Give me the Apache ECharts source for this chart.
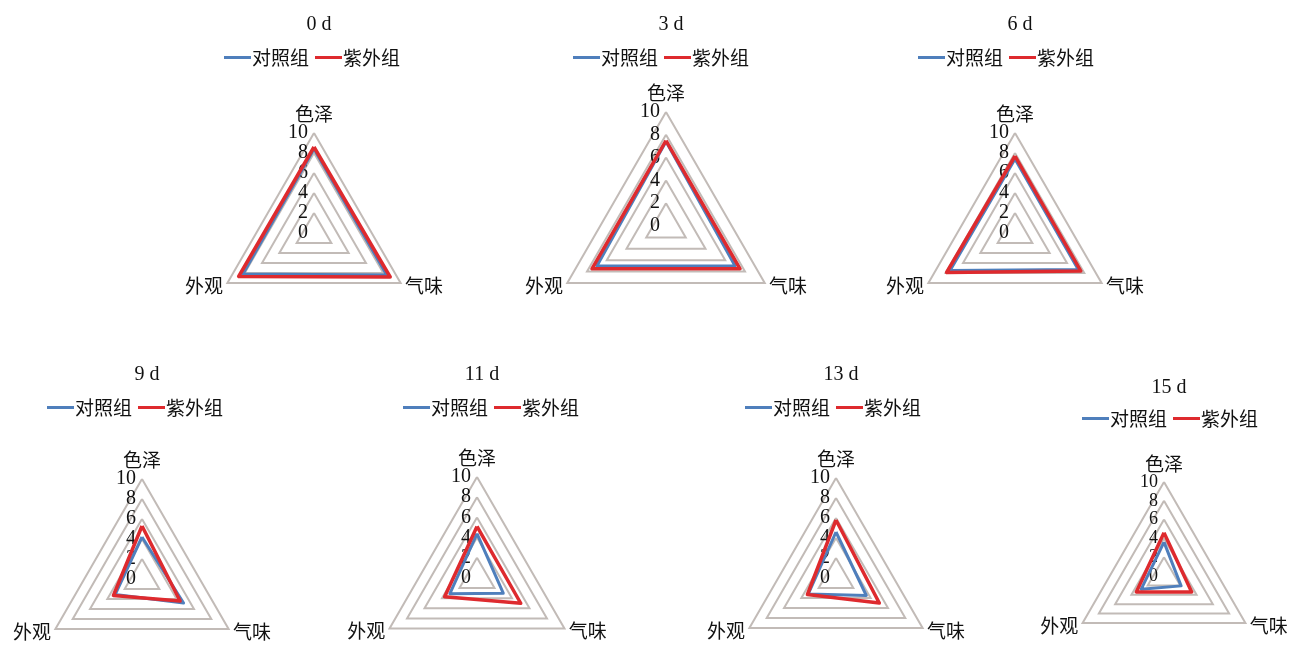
<!DOCTYPE html>
<html>
<head>
<meta charset="utf-8">
<script src="https://cdn.jsdelivr.net/npm/echarts@6/dist/echarts.min.js"></script>
<style>
  html, body { margin: 0; padding: 0; background: #fff; }
  #chart { width: 1294px; height: 648px; }
</style>
</head>
<body>
<div id="chart"></div>
<script>
// ---- data ----
const days = ['0 d', '3 d', '6 d', '9 d', '11 d', '13 d', '15 d'];
const indicatorNames = ['色泽', '外观', '气味'];
const seriesNames = ['对照组', '紫外组'];
const maxScore = 10;
// values per day, in order [色泽, 外观, 气味]
const controlScores = [
  [8.4, 8.2, 8.4],
  [7.4, 7.0, 7.0],
  [7.4, 7.5, 7.3],
  [4.2, 3.1, 4.8],
  [4.4, 3.1, 3.0],
  [4.6, 3.2, 3.5],
  [3.6, 2.8, 2.1]
];
const uvScores = [
  [8.6, 8.7, 8.8],
  [7.5, 7.5, 7.5],
  [7.7, 7.9, 7.6],
  [5.3, 3.3, 4.4],
  [5.1, 3.7, 5.0],
  [5.8, 3.3, 5.0],
  [4.6, 3.4, 3.4]
];

// ---- layout (component placement only) ----
const panels = [
  { cx: 314,  cy: 233, r: 100, fs: 20, titleTop: 10,  legendLeft: 219,  legendTop: 43 },
  { cx: 666,  cy: 226, r: 114, fs: 20, titleTop: 10,  legendLeft: 568,  legendTop: 43 },
  { cx: 1015, cy: 233, r: 100, fs: 20, titleTop: 10,  legendLeft: 913,  legendTop: 43 },
  { cx: 142,  cy: 579, r: 100, fs: 20, titleTop: 360, legendLeft: 42,   legendTop: 393 },
  { cx: 477,  cy: 578, r: 101, fs: 20, titleTop: 360, legendLeft: 398,  legendTop: 393 },
  { cx: 836,  cy: 578, r: 100, fs: 20, titleTop: 360, legendLeft: 740,  legendTop: 393 },
  { cx: 1164, cy: 576, r: 94,  fs: 18, titleTop: 373, legendLeft: 1077, legendTop: 404 }
];

const colors = ['#4F7FBC', '#DE2A2E'];
const cjk = "'Noto Sans CJK SC', sans-serif";
const serif = "'Liberation Serif', 'Times New Roman', serif";

const titles = [], legends = [], radars = [], series = [];
days.forEach((d, i) => {
  const p = panels[i];
  titles.push({
    text: d, left: p.cx, top: p.titleTop, textAlign: 'center',
    textStyle: { fontFamily: serif, fontSize: 20, fontWeight: 'normal', color: '#111' }
  });
  legends.push({
    data: seriesNames, left: p.legendLeft, top: p.legendTop,
    icon: 'rect', itemWidth: 27, itemHeight: 3, itemGap: 6,
    textStyle: { fontFamily: cjk, fontSize: 19, color: '#111', padding: [0, 0, 0, -4] }
  });
  radars.push({
    center: [p.cx, p.cy], radius: p.r, shape: 'polygon', splitNumber: 5,
    startAngle: 90,
    indicator: indicatorNames.map((n, k) => k === 0
      ? { name: n, min: 0, max: maxScore }
      : { name: n, min: 0, max: maxScore, axisLabel: { show: false } }),
    axisName: { color: '#111', fontFamily: cjk, fontSize: 19 },
    nameGap: 5,
    axisLine: { show: false },
    axisTick: { show: false },
    axisLabel: { show: true, interval: 0, hideOverlap: false, margin: 6, color: '#111',
                 fontFamily: serif, fontSize: p.fs,
                 showMinLabel: true, showMaxLabel: true },
    splitLine: { lineStyle: { color: '#C2BBB7', width: 2 } },
    splitArea: { show: false }
  });
  series.push({
    type: 'radar', radarIndex: i, name: seriesNames[0], symbol: 'none',
    lineStyle: { color: colors[0], width: 3 }, itemStyle: { color: colors[0] },
    data: [{ value: controlScores[i], name: seriesNames[0] }],
    silent: true
  });
  series.push({
    type: 'radar', radarIndex: i, name: seriesNames[1], symbol: 'none',
    lineStyle: { color: colors[1], width: 3.5 }, itemStyle: { color: colors[1] },
    data: [{ value: uvScores[i], name: seriesNames[1] }],
    silent: true
  });
});

const chart = echarts.init(document.getElementById('chart'), null, { renderer: 'canvas' });
chart.setOption({
  animation: false,
  backgroundColor: '#fff',
  title: titles,
  legend: legends,
  radar: radars,
  series: series
});
</script>
</body>
</html>
